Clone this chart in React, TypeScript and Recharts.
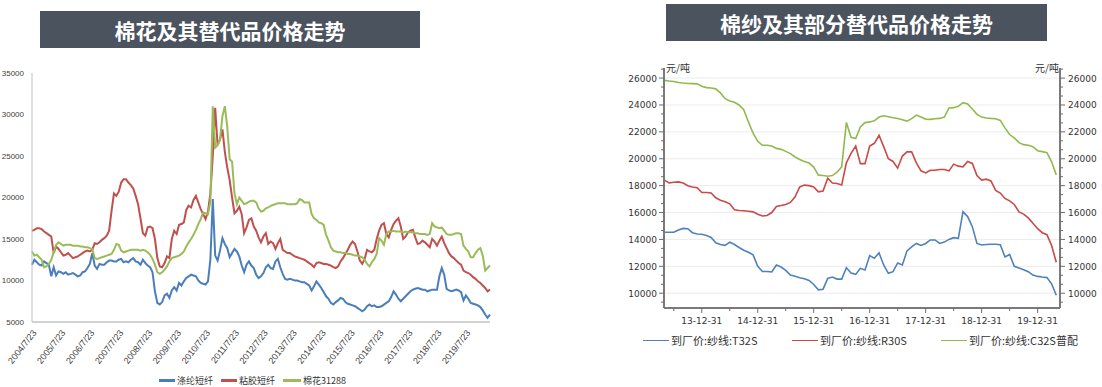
import React from "react";
import { LineChart, Line, XAxis, YAxis, ReferenceLine } from "recharts";

// ---- left chart: 棉花及其替代品价格走势 (monthly, 2004/7 .. 2020/5)
const leftTickLabels = [
  "2004/7/23", "2005/7/23", "2006/7/23", "2007/7/23", "2008/7/23", "2009/7/23",
  "2010/7/23", "2011/7/23", "2012/7/23", "2013/7/23", "2014/7/23", "2015/7/23",
  "2016/7/23", "2017/7/23", "2018/7/23", "2019/7/23",
];

// 涤纶短纤
const polyester = [
  11900, 12500, 12200, 11900, 11800, 12300, 12100, 11900, 10500, 11600, 10600, 11100,
  11000, 10800, 11000, 10700, 10800, 10900, 10700, 10500, 10600, 11000, 11100, 11500,
  12000, 13300, 11800, 11400, 12000, 11900, 11900, 12200, 12400, 12400, 12300, 12300,
  12500, 12600, 12200, 12300, 12200, 12500, 12700, 12300, 12200, 11900, 12500, 12100,
  11800, 11600, 11000, 8700, 7300, 7100, 7400, 8200, 8400, 7900, 8800, 9200,
  8800, 9700, 9400, 9900, 10300, 10500, 10700, 10600, 10500, 10000, 9700, 9600,
  9500, 9900, 12500, 19800, 13000, 12400, 13600, 15100, 14400, 13900, 12800, 13300,
  13800, 13500, 12900, 11800, 11000, 11900, 12300, 11800, 11500, 10700, 10300, 10500,
  10900, 11600, 11900, 11500, 11400, 12300, 12600, 11600, 10800, 10200, 10100, 10200,
  10100, 10000, 10000, 9900, 9800, 9800, 9600, 9400, 8800, 9300, 9900, 9500,
  9100, 8600, 8100, 7800, 7300, 7100, 7400, 7600, 7900, 7800, 7400, 7200,
  7100, 7000, 6900, 6700, 6500, 6300, 6500, 6900, 7100, 6900, 7000, 6800,
  6800, 6900, 7100, 7300, 7500, 8000, 8700, 8300, 7800, 7500, 7800, 8100,
  8400, 8700, 8900, 9000, 9100, 9000, 8900, 8900, 8700, 8800, 8900, 8900,
  8900, 10500, 11500, 10700, 9000, 8800, 8700, 8800, 8900, 8800, 8600, 7600,
  8200, 7800, 7300, 7200, 7100, 7000, 6800, 6400, 5900, 5500, 5900,
];

// 粘胶短纤
const viscose = [
  16000, 16100, 16300, 16300, 16200, 15900, 15700, 15500, 15300, 13300, 14100, 13800,
  13400, 13000, 13100, 13300, 13000, 12700, 12800, 12900, 13100, 13300, 13500, 13600,
  13500, 13700, 14500, 14400, 14600, 14900, 15100, 15400, 16000, 18400, 20500, 20200,
  20700, 21800, 22200, 22200, 21800, 21500, 21100, 20200, 19200, 17500, 15700, 15400,
  16400, 16500, 16300, 15000, 12700, 11700, 11600, 12100, 12900, 12700, 15000, 16000,
  15600, 16700, 16800, 17000, 18500, 19000, 18800, 19700, 20200, 19400, 18600, 18000,
  17400, 18300, 20500, 25000, 30800, 26300, 27000, 28200, 25500, 23600, 22100, 20000,
  18100, 18400, 18900, 18000, 15700, 16400, 17300, 17500, 16500, 16000, 15200, 14600,
  15300, 15700, 14400, 14700, 14500, 13800, 14500, 15000, 13700, 13500, 13300, 13300,
  13100, 12900, 12800, 12700, 12600, 12500, 12300, 12100, 11900, 11600, 12100, 12200,
  12100, 12000, 12000, 11900, 11800, 11600, 11500, 11700, 12300, 12700, 13200, 13700,
  14300, 14700, 14400, 13500, 12400, 12000, 12600, 13700, 13500, 13400, 13700, 15000,
  16000, 16700, 16900, 15600, 15200, 16100, 16800, 17200, 17500, 16500, 15000, 15300,
  15800, 16000, 16100, 15200, 14400, 14500, 14800, 14600, 14300, 14000, 15000, 14700,
  14200, 14800, 15300, 14500, 13900, 13300, 12900, 12700, 12400, 12100, 11900, 11200,
  11000, 10900, 10700, 10400, 10200, 9900, 9700, 9400, 9100, 8700, 8900,
];

// 棉花31288
const cotton = [
  13500, 13000, 13100, 12800, 12500, 11600, 11700, 12000, 12500, 13400, 14300, 14600,
  14400, 14200, 14300, 14300, 14300, 14200, 14200, 14200, 14100, 14100, 14000, 14000,
  13900, 13800, 12700, 12600, 12700, 12800, 12900, 13000, 13100, 13200, 13700, 14400,
  14300, 13600, 13400, 13500, 13600, 13700, 13700, 13700, 13700, 13600, 13700, 13600,
  13400, 13100, 12600, 11900, 11000, 10800, 11000, 11300, 11700, 12300, 12700, 12800,
  12900, 13000, 13200, 13500, 14100, 14600, 15000, 15500, 16100, 16800, 17400, 18200,
  18100, 18000, 19500, 31000, 26000, 26300, 27000, 29800, 31000, 28500, 24600, 24300,
  20500, 19200, 20000, 19600, 19200, 19300, 19500, 19600, 19600, 19400, 18700, 18300,
  18400, 18700, 18800, 19000, 19100, 19200, 19300, 19300, 19300, 19300, 19200, 19200,
  19200, 19200, 19300, 19800, 19700, 19400, 19400, 19400, 18000, 17500, 17300, 17000,
  16900, 16700, 15500, 14800, 14000, 13600, 13500, 13400, 13400, 13300, 13300, 13200,
  13200, 13100, 13000, 13000, 12900, 12800, 12500, 12000, 11700, 12200, 12600, 13200,
  15100, 14800, 14300, 15600, 15900, 15900, 16000, 15900, 15900, 15900, 15800, 15900,
  15800, 15800, 15800, 15700, 15700, 15600, 15600, 15600, 15500, 15600, 16900, 16500,
  16400, 16300, 16400, 16000, 15600, 15500, 15500, 15600, 15700, 15700, 15600, 14200,
  13800, 13500, 12800, 12800, 13300, 13700, 13900, 13000, 11200, 11500, 11800,
];

// ---- right chart: 棉纱及其部分替代品价格走势 (monthly, 2013-05 .. 2020-05)
const yarnTickLabels = ["13-12-31", "14-12-31", "15-12-31", "16-12-31", "17-12-31", "18-12-31", "19-12-31"];

// 到厂价:纱线:T32S
const yarnT32S = [
  14530, 14530, 14530, 14700, 14820, 14800, 14500, 14400, 14380, 14300, 14150, 13750,
  13620, 13560, 13800, 13620, 13400, 13200, 13050, 12850, 12000, 11620, 11610, 11580,
  12100, 11950, 11700, 11350, 11260, 11150, 11080, 10950, 10650, 10250, 10300, 11100,
  11200, 11050, 11050, 11900, 11500, 11400, 11850, 11730, 12800, 12600, 13000, 12100,
  11480, 11600, 12250, 12100, 13150, 13450, 13700, 13550, 13700, 13960, 13960, 13700,
  13800, 14000, 14130, 14080, 16060, 15700, 14950, 13700, 13590, 13620, 13640, 13640,
  13600, 12700, 12880, 12000, 11870, 11750, 11600, 11350, 11250, 11200, 11160, 10700,
  9850,
];

// 到厂价:纱线:R30S
const yarnR30S = [
  18410, 18200, 18250, 18280, 18200, 18000, 17900, 17840, 17490, 17490, 17450, 17100,
  16920, 16800, 16650, 16200, 16150, 16130, 16100, 16050, 15880, 15740, 15780, 16000,
  16450, 16520, 16600, 16750, 17170, 17900, 18040, 18000, 17900, 17540, 17600, 18550,
  18200, 18160, 18050, 19700, 20400, 20950, 19640, 19640, 20950, 21150, 21750, 20900,
  20000, 19800, 19300, 20200, 20510, 20510, 19700, 19100, 18950, 19150, 19150, 19200,
  19200, 19100, 19600, 19450, 19400, 19800, 19650, 18750, 18410, 18480, 18350, 17650,
  17450, 17050, 16870, 16600, 16050, 15880, 15600, 15200, 14800, 14500, 14350, 13550,
  12300,
];

// 到厂价:纱线:C32S普配
const yarnC32S = [
  25830, 25780, 25750, 25670, 25630, 25600, 25590, 25570, 25400, 25290, 25260, 25200,
  24900, 24470, 24300, 24200, 24000, 23650, 22740, 21900, 21300, 21000, 21000, 20950,
  20770, 20700, 20550, 20380, 20130, 19950, 19800, 19680, 19380, 18780, 18750, 18700,
  18750, 19000, 19400, 22700, 21600, 21500, 22370, 22690, 22740, 22820, 23100, 23200,
  23130, 23050, 23000, 22900, 22800, 22980, 23250, 23100, 22950, 22930, 22980, 23000,
  23100, 23780, 23800, 23900, 24170, 24080, 23700, 23300, 23100, 23030, 23000, 22980,
  22850, 22300, 21800, 21550, 21200, 21050, 21000, 20900, 20600, 20530, 20450, 19770,
  18800,
];

const BLUE = "#4a7ebb";
const RED = "#c0504d";
const GREEN = "#9bbb59";
const NUM_FONT = "DejaVu Sans";
const CJK_FONT = "'Noto Sans CJK SC', sans-serif";

const leftData = polyester.map((v, i) => ({
  m: i,
  polyester: v,
  viscose: viscose[i],
  cotton: cotton[i],
}));
const leftTicks = leftTickLabels.map((_, i) => i * 12);

const yarnData = yarnT32S.map((v, k) => ({
  k,
  t32s: v,
  r30s: yarnR30S[k],
  c32s: yarnC32S[k],
}));
// major x ticks sit on Dec 31 (index 8 = 2014-01), minor ones half a year earlier
const yarnMajorX = yarnTickLabels.map((_, i) => 8 + i * 12);
const yarnMinorX = yarnTickLabels.map((_, i) => 2 + i * 12);
const yarnMajorY = [10000, 12000, 14000, 16000, 18000, 20000, 22000, 24000, 26000];
const yarnYTicks: number[] = [];
for (let v = 10000 - 2000 / 3; v < 26750; v += 2000 / 3) yarnYTicks.push(v);

const isMajorY = (v: number) => yarnMajorY.some((m) => Math.abs(m - v) < 1);

const YarnTickLeft = (props: any) => {
  const { x, y, payload } = props;
  const major = isMajorY(payload.value);
  return (
    <g>
      <line x1={x - (major ? 5 : 3)} y1={y} x2={x} y2={y} stroke="#6d6d6d" />
      {major && (
        <text x={x - 7} y={y + 3.5} textAnchor="end" fontSize={9} fontFamily={NUM_FONT} fill="#333">
          {Math.round(payload.value)}
        </text>
      )}
    </g>
  );
};

const YarnTickRight = (props: any) => {
  const { x, y, payload } = props;
  const major = isMajorY(payload.value);
  return (
    <g>
      <line x1={x} y1={y} x2={x + (major ? 5 : 3)} y2={y} stroke="#6d6d6d" />
      {major && (
        <text x={x + 8} y={y + 3.5} textAnchor="start" fontSize={9} fontFamily={NUM_FONT} fill="#333">
          {Math.round(payload.value)}
        </text>
      )}
    </g>
  );
};

const YarnTickX = (props: any) => {
  const { x, y, payload } = props;
  const idx = yarnMajorX.indexOf(payload.value);
  return (
    <g>
      <line x1={x} y1={y} x2={x} y2={y + (idx >= 0 ? 5 : 3)} stroke="#6d6d6d" />
      {idx >= 0 && (
        <text x={x} y={y + 16} textAnchor="middle" fontSize={9} fontFamily={NUM_FONT} fill="#333">
          {yarnTickLabels[idx]}
        </text>
      )}
    </g>
  );
};

const titleStyle: React.CSSProperties = {
  position: "absolute",
  background: "#4b535f",
  color: "#fff",
  fontFamily: CJK_FONT,
  fontWeight: 700,
  fontSize: 21,
  display: "flex",
  alignItems: "center",
  justifyContent: "center",
};

const LegendItem = ({ color, label, left, top, w, thick, size }: any) => (
  <div style={{ position: "absolute", left, top, display: "flex", alignItems: "center", whiteSpace: "nowrap" }}>
    <div style={{ width: w, height: thick, background: color, marginRight: 2 }} />
    <span style={{ fontSize: size, fontFamily: CJK_FONT, color: "#333", lineHeight: 1 }}>{label}</span>
  </div>
);

export default function App() {
  return (
    <div
      style={{
        position: "absolute",
        left: 0,
        top: 0,
        width: 1102,
        height: 387,
        background: "#fff",
        overflow: "hidden",
      }}
    >
      <div style={{ ...titleStyle, left: 40, top: 11, width: 380, height: 37 }}>棉花及其替代品价格走势</div>
      <div style={{ ...titleStyle, left: 666, top: 4, width: 381, height: 37 }}>棉纱及其部分替代品价格走势</div>

      {/* left chart */}
      <div style={{ position: "absolute", left: 0, top: 0 }}>
        <LineChart width={500} height={387} data={leftData} margin={{ top: 73, right: 10, left: 0, bottom: 0 }}>
          <XAxis
            type="number"
            dataKey="m"
            domain={[0, 190]}
            ticks={leftTicks}
            interval={0}
            tickFormatter={(v: number) => leftTickLabels[Math.round(v / 12)]}
            angle={-52}
            textAnchor="end"
            height={65}
            tickLine={false}
            tickMargin={1}
            axisLine={{ stroke: "#a6a6a6" }}
            tick={{ fontSize: 9, fill: "#404040", fontFamily: "Liberation Sans" }}
          />
          <YAxis
            domain={[5000, 35000]}
            ticks={[5000, 10000, 15000, 20000, 25000, 30000, 35000]}
            interval={0}
            width={32}
            tickLine={false}
            axisLine={{ stroke: "#bfbfbf" }}
            tick={{ fontSize: 8, fill: "#404040", fontFamily: "Liberation Sans" }}
          />
          <Line dataKey="polyester" name="涤纶短纤" stroke={BLUE} strokeWidth={2} dot={false} activeDot={false} isAnimationActive={false} />
          <Line dataKey="viscose" name="粘胶短纤" stroke={RED} strokeWidth={2} dot={false} activeDot={false} isAnimationActive={false} />
          <Line dataKey="cotton" name="棉花31288" stroke={GREEN} strokeWidth={2} dot={false} activeDot={false} isAnimationActive={false} />
        </LineChart>
      </div>
      <LegendItem color={BLUE} label="涤纶短纤" left={159} top={376} w={16} thick={2.5} size={9} />
      <LegendItem color={RED} label="粘胶短纤" left={221} top={376} w={16} thick={2.5} size={9} />
      <LegendItem color={GREEN} label="棉花31288" left={283} top={376} w={18} thick={2.5} size={9} />

      {/* right chart */}
      <div style={{ position: "absolute", left: 600, top: 0 }}>
        <LineChart width={502} height={387} data={yarnData} margin={{ top: 68, right: 0, left: 0, bottom: 0 }}>
          {yarnMajorY.map((v) => (
            <ReferenceLine key={v} yAxisId="l" y={v} stroke="#ececec" strokeWidth={1} />
          ))}
          <XAxis
            type="number"
            dataKey="k"
            domain={[-0.1, 84.8]}
            ticks={[...yarnMinorX, ...yarnMajorX].sort((a, b) => a - b)}
            interval={0}
            height={79}
            tickSize={0}
            tickMargin={0}
            tickLine={false}
            axisLine={{ stroke: "#7a7a7a", strokeWidth: 2 }}
            tick={<YarnTickX />}
          />
          <YAxis
            yAxisId="l"
            domain={[8900, 26750]}
            allowDataOverflow
            ticks={yarnYTicks}
            interval={0}
            width={64}
            tickSize={0}
            tickMargin={0}
            tickLine={false}
            axisLine={{ stroke: "#7a7a7a", strokeWidth: 2 }}
            tick={<YarnTickLeft />}
          />
          <YAxis
            yAxisId="r"
            orientation="right"
            domain={[8900, 26750]}
            allowDataOverflow
            ticks={yarnYTicks}
            interval={0}
            width={42}
            tickSize={0}
            tickMargin={0}
            tickLine={false}
            axisLine={{ stroke: "#7a7a7a", strokeWidth: 2 }}
            tick={<YarnTickRight />}
          />
          <Line yAxisId="l" dataKey="t32s" name="到厂价:纱线:T32S" stroke="#4f81bd" strokeWidth={1.6} dot={false} activeDot={false} isAnimationActive={false} />
          <Line yAxisId="l" dataKey="r30s" name="到厂价:纱线:R30S" stroke="#c94a47" strokeWidth={1.6} dot={false} activeDot={false} isAnimationActive={false} />
          <Line yAxisId="l" dataKey="c32s" name="到厂价:纱线:C32S普配" stroke="#93b84e" strokeWidth={1.6} dot={false} activeDot={false} isAnimationActive={false} />
          <Line yAxisId="r" dataKey="c32s" stroke="none" dot={false} activeDot={false} legendType="none" isAnimationActive={false} />
        </LineChart>
      </div>
      <div style={{ position: "absolute", left: 666, top: 63, fontSize: 10, fontFamily: CJK_FONT, color: "#333", lineHeight: 1 }}>元/吨</div>
      <div style={{ position: "absolute", left: 1035, top: 63, fontSize: 10, fontFamily: CJK_FONT, color: "#333", lineHeight: 1 }}>元/吨</div>
      <LegendItem color="#4f81bd" label="到厂价:纱线:T32S" left={643} top={335} w={26} thick={1.6} size={11} />
      <LegendItem color="#c94a47" label="到厂价:纱线:R30S" left={792} top={335} w={26} thick={1.6} size={11} />
      <LegendItem color="#93b84e" label="到厂价:纱线:C32S普配" left={941} top={335} w={26} thick={1.6} size={11} />
    </div>
  );
}
